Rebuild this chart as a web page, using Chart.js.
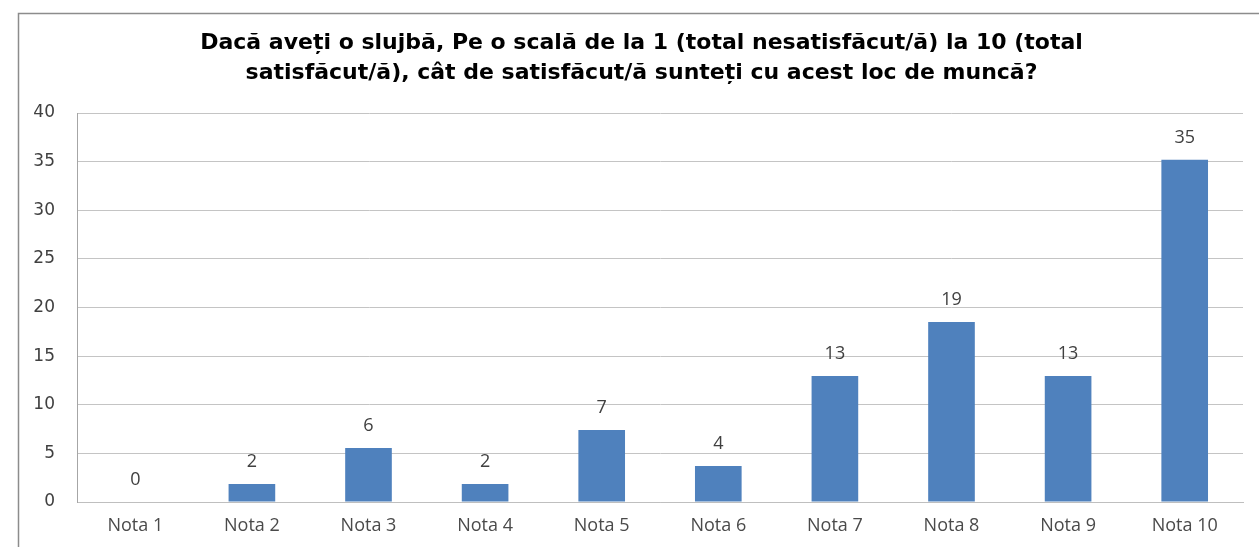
<!DOCTYPE html>
<html>
<head>
<meta charset="utf-8">
<script src="https://cdn.jsdelivr.net/npm/chart.js@4/dist/chart.umd.min.js"></script>
<style>
  html, body { margin: 0; padding: 0; background: #fff; overflow: hidden; }
  #wrap { position: relative; width: 1259px; height: 547px; }
</style>
</head>
<body>
<div id="wrap"><canvas id="c" width="1259" height="547"></canvas></div>
<script>
const titleLines = [
  "Dacă aveți o slujbă, Pe o scală de la 1 (total nesatisfăcut/ă) la 10 (total",
  "satisfăcut/ă), cât de satisfăcut/ă sunteți cu acest loc de muncă?"
];
const categories = ["Nota 1", "Nota 2", "Nota 3", "Nota 4", "Nota 5", "Nota 6", "Nota 7", "Nota 8", "Nota 9", "Nota 10"];
const percentValues = [0, 1.85, 5.56, 1.85, 7.41, 3.70, 12.96, 18.52, 12.96, 35.19];
const valueLabels = ["0", "2", "6", "2", "7", "4", "13", "19", "13", "35"];
const yTicks = [0, 5, 10, 15, 20, 25, 30, 35, 40];

const frame = {
  id: 'frame',
  beforeDraw(chart) {
    const ctx = chart.ctx;
    ctx.save();
    ctx.fillStyle = '#ffffff';
    ctx.fillRect(0, 0, chart.width, chart.height);
    ctx.strokeStyle = '#8c8c8c';
    ctx.lineWidth = 1.5;
    ctx.strokeRect(18.5, 13.5, 1300, 600);
    ctx.restore();
  }
};

const dataLabels = {
  id: 'dataLabels',
  afterDatasetsDraw(chart) {
    const ctx = chart.ctx;
    const meta = chart.getDatasetMeta(0);
    ctx.save();
    ctx.font = '18px "Open Sans", "Liberation Sans", sans-serif';
    ctx.fillStyle = '#404040';
    ctx.textAlign = 'center';
    ctx.textBaseline = 'middle';
    meta.data.forEach((bar, i) => {
      ctx.fillText(valueLabels[i], bar.x, bar.y - 22);
    });
    ctx.restore();
  }
};

new Chart(document.getElementById('c'), {
  type: 'bar',
  data: {
    labels: categories,
    datasets: [{
      data: percentValues,
      backgroundColor: '#4f81bd',
      borderWidth: 0,
      categoryPercentage: 0.4,
      barPercentage: 1.0
    }]
  },
  options: {
    responsive: false,
    animation: false,
    devicePixelRatio: 1,
    layout: { padding: { left: 24, right: 0, top: 0, bottom: 0 } },
    plugins: {
      legend: { display: false },
      tooltip: { enabled: false },
      title: {
        display: true,
        text: titleLines,
        color: '#000000',
        font: { family: '"DejaVu Sans", "Liberation Sans", sans-serif', size: 22, weight: 'bold', lineHeight: 1.364 },
        padding: { top: 28, bottom: 25 }
      }
    },
    scales: {
      x: {
        grid: { display: false, drawTicks: false },
        border: { display: true, color: '#bfbfbf', width: 1 },
        ticks: {
          color: '#4a4a4a',
          font: { family: '"Open Sans", "Liberation Sans", sans-serif', size: 18 },
          padding: 13,
          maxRotation: 0
        },
        afterFit(s) { s.height = 45; }
      },
      y: {
        min: 0,
        max: 40,
        afterBuildTicks(s) { s.ticks = yTicks.map(v => ({ value: v })); },
        grid: { color: '#c4c4c4', lineWidth: 1, drawTicks: false },
        border: { display: true, color: '#a6a6a6', width: 1 },
        ticks: {
          color: '#404040',
          font: { family: '"DejaVu Sans", "Liberation Sans", sans-serif', size: 17 },
          padding: 22
        },
        afterFit(s) { s.width = 53; }
      },
      y2: {
        position: 'right',
        display: true,
        grid: { display: false, drawTicks: false },
        border: { display: false },
        ticks: { display: false },
        afterFit(s) { s.width = 16; }
      }
    }
  },
  plugins: [frame, dataLabels]
});
</script>
</body>
</html>
